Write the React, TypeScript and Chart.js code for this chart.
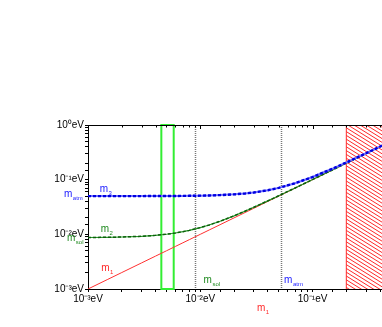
import React, { useEffect, useRef } from 'react';
import { Chart, registerables } from 'chart.js';

Chart.register(...registerables);

// lightest neutrino mass m1 (eV)
const m1Values = [0.001, 0.0015, 0.002, 0.003, 0.004, 0.005, 0.006, 0.007, 0.008, 0.01, 0.012, 0.015, 0.02, 0.025, 0.03, 0.04, 0.05, 0.07, 0.1, 0.15, 0.2, 0.3, 0.5];
// m2
const m2Values = [0.00876, 0.00883, 0.00893, 0.0092, 0.00958, 0.01003, 0.01057, 0.01117, 0.01182, 0.01326, 0.01482, 0.01734, 0.02181, 0.02647, 0.03124, 0.04094, 0.05075, 0.07054, 0.10038, 0.15025, 0.20019, 0.30013, 0.50008];
// m3
const m3Values = [0.05001, 0.05002, 0.05004, 0.05009, 0.05016, 0.05025, 0.05036, 0.05049, 0.05064, 0.05099, 0.05142, 0.0522, 0.05385, 0.0559, 0.05831, 0.06403, 0.07071, 0.08602, 0.1118, 0.15811, 0.20616, 0.30414, 0.50249];

const decadeLabels: Record<string, string> = {
  '-3': '10⁻³eV',
  '-2': '10⁻²eV',
  '-1': '10⁻¹eV',
  '0': '10⁰eV',
};

const mSol = 0.0087;
const mAtm = 0.05;
const greenBand = [0.0045, 0.0058];
const dottedLines = [0.009, 0.052];
const cosmoBound = 0.2;
const xRange = [0.001, 0.5];
const yRange = [0.001, 1];

const FONT = '"Liberation Sans", Arial, sans-serif';

function isDecade(v: number) {
  const l = Math.log10(v);
  return Math.abs(l - Math.round(l)) < 1e-6;
}

function decadeLabel(v: number) {
  if (!isDecade(v)) return '';
  const key = String(Math.round(Math.log10(v)));
  return decadeLabels[key] ?? '';
}

function drawSub(ctx: CanvasRenderingContext2D, base: string, sub: string, x: number, y: number, color: string) {
  ctx.fillStyle = color;
  ctx.textAlign = 'left';
  ctx.textBaseline = 'alphabetic';
  ctx.font = `10px ${FONT}`;
  ctx.fillText(base, x, y);
  const w = ctx.measureText(base).width;
  ctx.font = `6px ${FONT}`;
  ctx.fillText(sub, x + w + 0.5, y + 3);
}

const overlay = {
  id: 'overlay',
  beforeDatasetsDraw(chart: any) {
    const { ctx, chartArea: a, scales } = chart;
    const x = scales.x;
    ctx.save();
    // hatched excluded region
    const hx = x.getPixelForValue(cosmoBound);
    ctx.save();
    ctx.beginPath();
    ctx.rect(hx, a.top, a.right - hx, a.bottom - a.top);
    ctx.clip();
    ctx.strokeStyle = '#ff2a2a';
    ctx.lineWidth = 1;
    const slope = 0.62;
    for (let k = -120; k < a.bottom - a.top + 10; k += 3.8) {
      ctx.beginPath();
      ctx.moveTo(hx - 2, a.top + k);
      ctx.lineTo(hx + 200, a.top + k + 202 * slope);
      ctx.stroke();
    }
    ctx.restore();
    ctx.strokeStyle = '#ff2a2a';
    ctx.lineWidth = 1;
    ctx.beginPath();
    ctx.moveTo(hx, a.top);
    ctx.lineTo(hx, a.bottom);
    ctx.stroke();

    // dotted vertical lines
    ctx.strokeStyle = '#777';
    ctx.lineWidth = 1.5;
    ctx.setLineDash([1, 1]);
    dottedLines.forEach((v) => {
      const px = Math.round(x.getPixelForValue(v)) + 0.5;
      ctx.beginPath();
      ctx.moveTo(px, a.top);
      ctx.lineTo(px, a.bottom);
      ctx.stroke();
    });
    ctx.setLineDash([]);

    // green band
    ctx.strokeStyle = '#33ee33';
    ctx.lineWidth = 2;
    const g0 = x.getPixelForValue(greenBand[0]);
    const g1 = x.getPixelForValue(greenBand[1]);
    ctx.strokeRect(g0, a.top, g1 - g0, a.bottom - a.top);
    ctx.restore();
  },
  afterDraw(chart: any) {
    const { ctx, chartArea: a, scales } = chart;
    const x = scales.x;
    const y = scales.y;
    ctx.save();
    // top axis line and inward ticks
    ctx.strokeStyle = '#000';
    ctx.lineWidth = 1;
    ctx.beginPath();
    ctx.moveTo(a.left, a.top + 0.5);
    ctx.lineTo(a.right, a.top + 0.5);
    ctx.stroke();
    x.ticks.forEach((t: any) => {
      const px = Math.round(x.getPixelForValue(t.value)) + 0.5;
      const len = isDecade(t.value) ? 4 : 2.5;
      ctx.beginPath();
      ctx.moveTo(px, a.top);
      ctx.lineTo(px, a.top + len);
      ctx.stroke();
    });

    // labels
    const blue = '#1a1aff';
    const green = '#1f8a1f';
    const red = '#ff2a2a';
    drawSub(ctx, 'm', 'atm', a.left - 24, y.getPixelForValue(mAtm) + 1, blue);
    drawSub(ctx, 'm', '3', x.getPixelForValue(0.00127), y.getPixelForValue(mAtm) - 4.5, blue);
    drawSub(ctx, 'm', 'sol', a.left - 21, y.getPixelForValue(mSol) + 3.5, green);
    drawSub(ctx, 'm', '2', x.getPixelForValue(0.0013), y.getPixelForValue(mSol) - 6, green);
    drawSub(ctx, 'm', '1', x.getPixelForValue(0.00131), y.getPixelForValue(0.00214), red);
    drawSub(ctx, 'm', 'sol', x.getPixelForValue(0.0107), a.bottom - 6, green);
    drawSub(ctx, 'm', 'atm', x.getPixelForValue(0.0558), a.bottom - 6, blue);
    drawSub(ctx, 'm', '1', x.getPixelForValue(0.032), a.bottom + 22, red);
    ctx.restore();
  },
};

export default function App() {
  const ref = useRef<HTMLCanvasElement | null>(null);

  useEffect(() => {
    if (!ref.current) return;
    const pts = (ys: number[]) => m1Values.map((v, i) => ({ x: v, y: ys[i] }));
    const chart = new Chart(ref.current, {
      type: 'scatter',
      data: {
        datasets: [
          { data: pts(m3Values), showLine: true, borderColor: '#0000e0', borderWidth: 2.4, borderDash: [3, 2], pointRadius: 0 },
          { data: pts(m3Values), showLine: true, borderColor: '#7070ff', borderWidth: 2, pointRadius: 0 },
          { data: pts(m2Values), showLine: true, borderColor: '#0b5e0b', borderWidth: 1.5, borderDash: [3, 2], pointRadius: 0 },
          { data: pts(m2Values), showLine: true, borderColor: '#2a9a2a', borderWidth: 1.2, pointRadius: 0 },
          { data: pts(m1Values), showLine: true, borderColor: '#ff3030', borderWidth: 1, pointRadius: 0 },
        ],
      },
      options: {
        animation: false,
        responsive: false,
        layout: { padding: { top: 125, right: 9, left: 0, bottom: 0 } },
        plugins: { legend: { display: false }, tooltip: { enabled: false } },
        scales: {
          x: {
            type: 'logarithmic',
            min: xRange[0],
            max: xRange[1],
            afterFit: (s: any) => { s.height = 38; },
            grid: { display: true, drawOnChartArea: false, drawTicks: true, tickLength: 3, color: '#000' },
            border: { display: true, color: '#000', width: 1 },
            ticks: {
              autoSkip: false,
              maxRotation: 0,
              padding: 1,
              color: '#000',
              font: { family: FONT, size: 10 },
              callback: (v: any) => decadeLabel(Number(v)),
            },
          },
          y: {
            type: 'logarithmic',
            min: yRange[0],
            max: yRange[1],
            afterFit: (s: any) => { s.width = 88; },
            grid: { display: true, drawOnChartArea: false, drawTicks: true, tickLength: 3, color: '#000' },
            border: { display: true, color: '#000', width: 1 },
            ticks: {
              autoSkip: false,
              padding: 1,
              color: '#000',
              font: { family: FONT, size: 10 },
              callback: (v: any) => decadeLabel(Number(v)),
            },
          },
        },
      },
      plugins: [overlay],
    });
    return () => chart.destroy();
  }, []);

  return (
    <div style={{ position: 'fixed', left: 0, top: 0, width: 382, height: 327, overflow: 'hidden', background: '#fff' }}>
      <canvas ref={ref} width={400} height={327} style={{ width: 400, height: 327, display: 'block' }} />
    </div>
  );
}
